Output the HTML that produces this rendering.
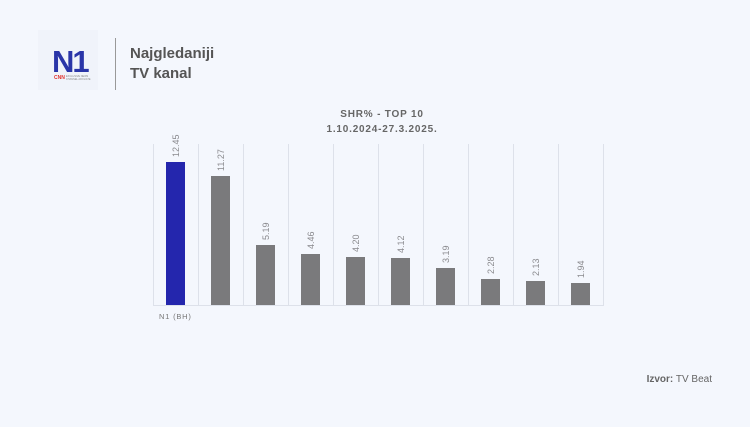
<!DOCTYPE html>
<html><head><meta charset="utf-8"><style>
html,body{margin:0;padding:0;background:#f4f7fd;}
body{width:750px;height:422px;overflow:hidden;font-family:"Liberation Sans",sans-serif;}
</style></head><body>
<svg width="750" height="422" viewBox="0 0 750 422" xmlns="http://www.w3.org/2000/svg" font-family="Liberation Sans, sans-serif">
<rect width="750" height="422" fill="#f4f7fd"/>
<rect x="38" y="30" width="60" height="60" fill="#f0f3fa"/>
<text x="52" y="72" font-size="31" font-weight="bold" fill="#2a35a8" letter-spacing="-2">N1</text>
<text x="54" y="79" font-size="5" font-weight="bold" fill="#e0302a">CNN</text>
<text x="66" y="77" font-size="2.5" fill="#888">EXCLUSIVE NEWS</text>
<text x="66" y="80" font-size="2.5" fill="#888">CHANNEL AFFILIATE</text>
<line x1="115.5" y1="38" x2="115.5" y2="90" stroke="#999" stroke-width="1"/>
<text x="130" y="58" font-size="15" font-weight="bold" fill="#555">Najgledaniji</text>
<text x="130" y="78" font-size="15" font-weight="bold" fill="#555">TV kanal</text>
<text x="382" y="117" font-size="10" font-weight="bold" fill="#666" text-anchor="middle" letter-spacing="0.8">SHR% - TOP 10</text>
<text x="382" y="132" font-size="10" font-weight="bold" fill="#666" text-anchor="middle" letter-spacing="0.8">1.10.2024-27.3.2025.</text>
<g stroke="#dde1ea" stroke-width="1">
<line x1="153.5" y1="144" x2="153.5" y2="305"/>
<line x1="198.5" y1="144" x2="198.5" y2="305"/>
<line x1="243.5" y1="144" x2="243.5" y2="305"/>
<line x1="288.5" y1="144" x2="288.5" y2="305"/>
<line x1="333.5" y1="144" x2="333.5" y2="305"/>
<line x1="378.5" y1="144" x2="378.5" y2="305"/>
<line x1="423.5" y1="144" x2="423.5" y2="305"/>
<line x1="468.5" y1="144" x2="468.5" y2="305"/>
<line x1="513.5" y1="144" x2="513.5" y2="305"/>
<line x1="558.5" y1="144" x2="558.5" y2="305"/>
<line x1="603.5" y1="144" x2="603.5" y2="305"/>
<line x1="153" y1="305.5" x2="604" y2="305.5"/>
</g>
<g fill="#7a7a7c">
<rect x="166" y="162" width="19" height="143" fill="#2426ad"/>
<rect x="211" y="176" width="19" height="129"/>
<rect x="256" y="245" width="19" height="60"/>
<rect x="301" y="254" width="19" height="51"/>
<rect x="346" y="257" width="19" height="48"/>
<rect x="391" y="258" width="19" height="47"/>
<rect x="436" y="268" width="19" height="37"/>
<rect x="481" y="279" width="19" height="26"/>
<rect x="526" y="281" width="19" height="24"/>
<rect x="571" y="283" width="19" height="22"/>
</g>
<g font-size="9" fill="#8a8a8e">
<text transform="translate(179,157) rotate(-90)">12.45</text>
<text transform="translate(224,171) rotate(-90)">11.27</text>
<text transform="translate(269,240) rotate(-90)">5.19</text>
<text transform="translate(314,249) rotate(-90)">4.46</text>
<text transform="translate(359,252) rotate(-90)">4.20</text>
<text transform="translate(404,253) rotate(-90)">4.12</text>
<text transform="translate(449,263) rotate(-90)">3.19</text>
<text transform="translate(494,274) rotate(-90)">2.28</text>
<text transform="translate(539,276) rotate(-90)">2.13</text>
<text transform="translate(584,278) rotate(-90)">1.94</text>
</g>
<text x="159" y="319" font-size="7.5" fill="#777" letter-spacing="0.8">N1 (BH)</text>
<text x="712" y="382" font-size="10" fill="#666" text-anchor="end"><tspan font-weight="bold">Izvor:</tspan> TV Beat</text>
</svg>
</body></html>
